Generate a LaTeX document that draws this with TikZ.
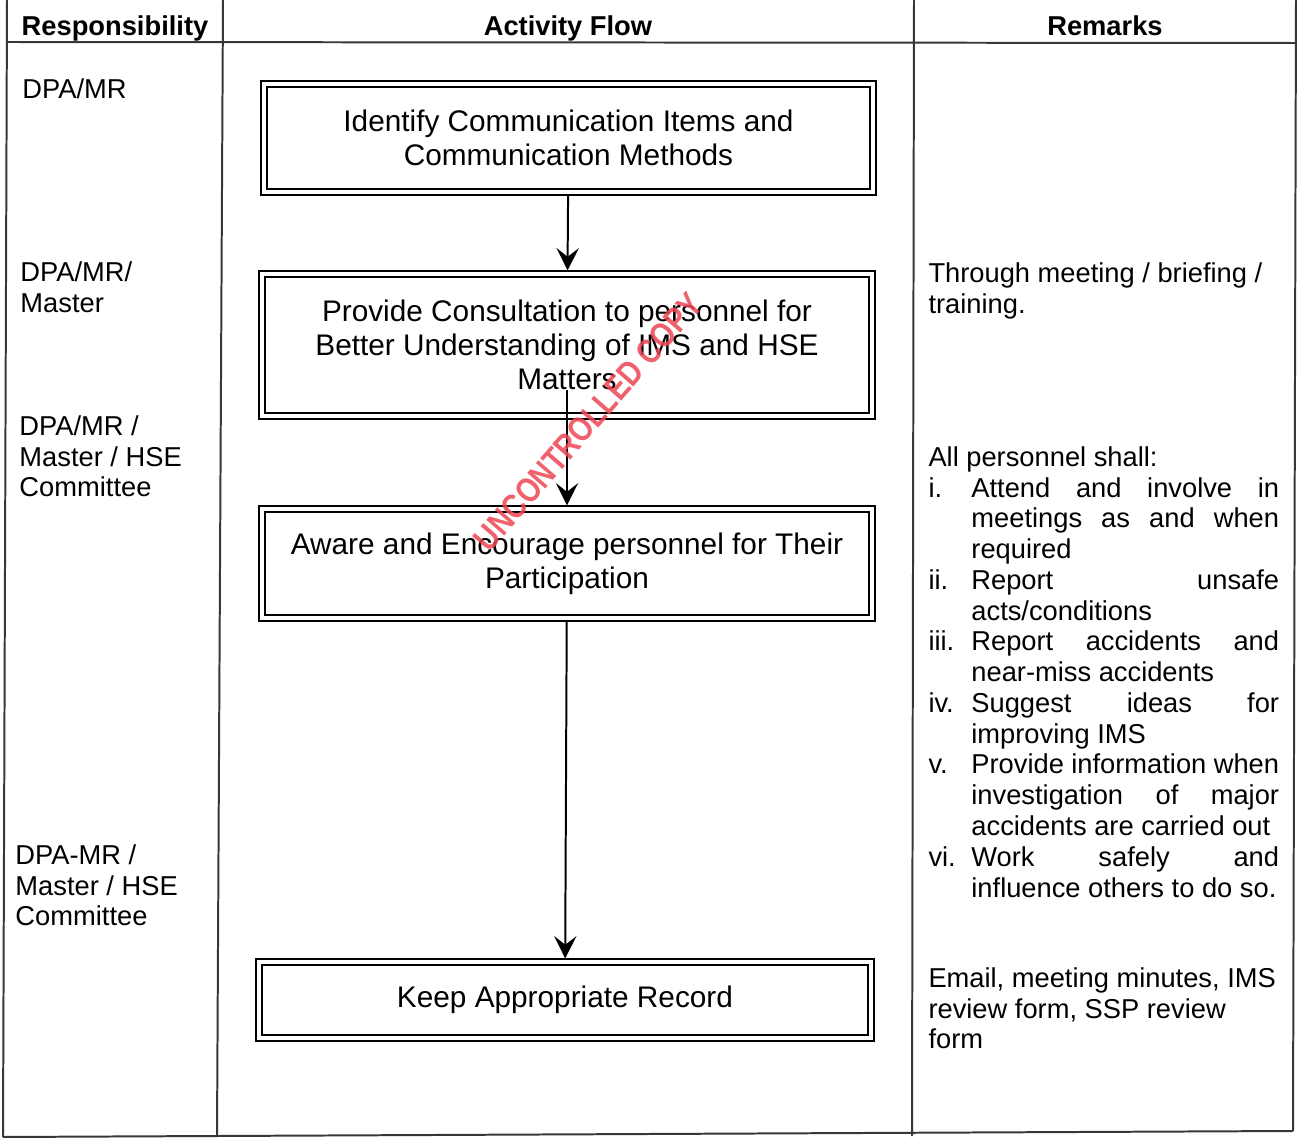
\documentclass[tikz,border=0pt]{standalone}
\usepackage{fontspec}
\setmainfont{Liberation Sans}
\usepackage{tikz}
\usetikzlibrary{positioning,calc,arrows.meta}
\usepackage{xcolor}

\definecolor{rulegray}{RGB}{55,55,55}
\definecolor{stampred}{RGB}{236,70,84}

\newlength\remw
\setlength\remw{124pt}
\newcommand\remlab[1]{\makebox[17.3pt][l]{#1}}
\newcommand\remj[1]{\makebox[\remw][s]{#1}}

\tikzset{
  flowbox/.style={draw, double, line width=0.8pt, double distance=1.3pt,
    outer sep=1.45pt, align=center, font=\fontsize{12}{13.8}\selectfont},
  flow/.style={-{Stealth[length=9pt,width=9pt,inset=3.5pt]}, line width=0.8pt},
  head/.style={font=\bfseries\fontsize{11}{12.4}\selectfont, anchor=base, inner sep=0pt},
  cell/.style={font=\fontsize{11}{12.4}\selectfont, anchor=north west, align=left, inner sep=0pt},
  tablerule/.style={rulegray, line width=0.8pt}
}

\begin{document}
\begin{tikzpicture}[x=0.403pt, y=-0.403pt]
    \fill[white] (0,0) rectangle (1302,1145);
    \useasboundingbox (0,0) rectangle (1302,1145);

      % Table
      \draw[tablerule] (7,0) -- (3,1137);
      \draw[tablerule] (223,0) -- (217,1137);
      \draw[tablerule] (914,0) -- (912,1136);
      \draw[tablerule] (1296,0) -- (1293,1131);
      \draw[tablerule] (7,42) -- (1296,43);
      \draw[tablerule] (3,1137) -- (1293,1131);

      % Header
      \node[head] (resp) at (115,36) {Responsibility};
      \node[head] (act) at (568,36) {Activity Flow};
      \node[head] (rem) at (1105,36) {Remarks};

      % Responsibility
      \node[cell] (r1) at (22,78) {DPA/MR};
      \node[cell] (r2) at (20,261) {DPA/MR/\\Master};
      \node[cell] (r3) at (19,415) {DPA/MR /\\Master / HSE\\Committee};
      \node[cell] (r4) at (15,844) {DPA-MR /\\Master / HSE\\Committee};

      % Activity flow
      \node[flowbox, minimum width=245.4pt, minimum height=43.5pt] (id) at (568.5,138)
        {Identify Communication Items and\\Communication Methods};
      \node[flowbox, minimum width=245.8pt, minimum height=57.2pt] (consult) at (567,345)
        {Provide Consultation to personnel for\\Better Understanding of IMS and HSE\\Matters};
      \node[flowbox, minimum width=245.8pt, minimum height=43.9pt] (aware) at (567,563.5)
        {Aware and Encourage personnel for Their\\Participation};
      \node[flowbox, minimum width=246.6pt, minimum height=30.6pt] (record) at (565,1000)
        {Keep Appropriate Record};

      \draw[flow] (id) -- (consult);
      \draw[flow] ([yshift=12pt]consult.south) -- (aware.north);
      \draw[flow] (aware) -- (record);

      % Remarks
      \node[cell] (m2) at (928,262) {Through meeting / briefing /\\training.};
      \node[cell] (m3) at (928,446) {All personnel shall:\\
        \remlab{i.}\remj{Attend and involve in}\\
        \remlab{}\remj{meetings as and when}\\
        \remlab{}required\\
        \remlab{ii.}\remj{Report unsafe}\\
        \remlab{}acts/conditions\\
        \remlab{iii.}\remj{Report accidents and}\\
        \remlab{}near-miss accidents\\
        \remlab{iv.}\remj{Suggest ideas for}\\
        \remlab{}improving IMS\\
        \remlab{v.}\remj{Provide information when}\\
        \remlab{}\remj{investigation of major}\\
        \remlab{}accidents are carried out\\
        \remlab{vi.}\remj{Work safely and}\\
        \remlab{}influence others to do so.};
      \node[cell] (m4) at (928,967) {Email, meeting minutes, IMS\\review form, SSP review\\form};

      % Stamp
      \node[stampred, opacity=0.85, rotate=49, font=\bfseries\fontsize{14}{16}\selectfont] (stamp)
        at (588,422) {\scalebox{0.82}[1]{UNCONTROLLED COPY}};
  \end{tikzpicture}
\end{document}
